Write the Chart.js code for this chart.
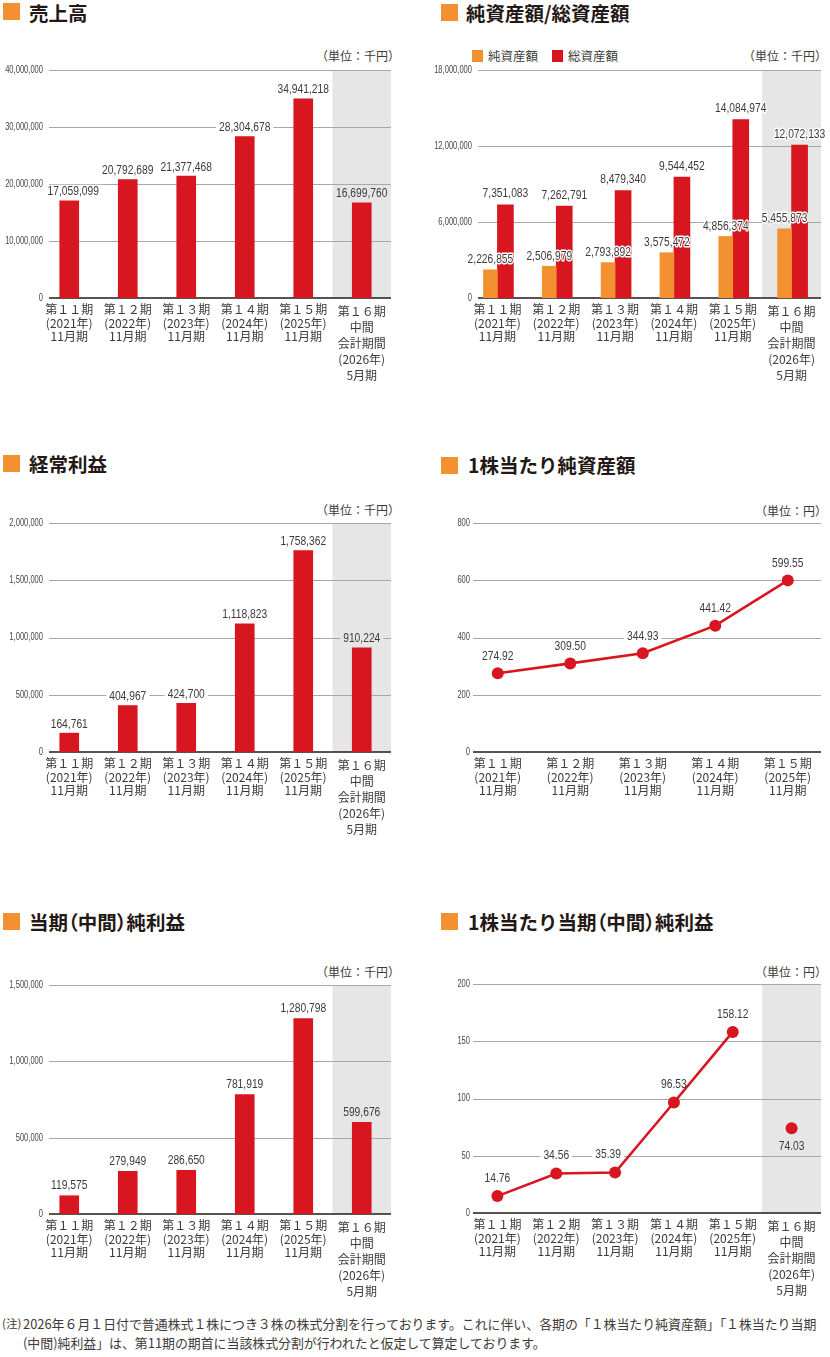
<!DOCTYPE html>
<html>
<head>
<meta charset="utf-8">
<script src="https://cdn.jsdelivr.net/npm/chart.js@4.4.1/dist/chart.umd.min.js"></script>
<style>
  body { margin: 0; width: 830px; height: 1357px; position: relative; overflow: hidden; background: #fff;
         font-family: "Noto Sans CJK JP", sans-serif; color: #3e3a39; }
  canvas { position: absolute; }
  .sq { position: absolute; width: 17px; height: 17px; background: #f39130; }
  .t { position: absolute; font-size: 19.5px; line-height: 20px; font-weight: 700; color: #231815; white-space: nowrap; }
  .t .p { font-feature-settings: "palt"; }
  .u { position: absolute; font-size: 12px; line-height: 14px; white-space: nowrap; }
  .lg { position: absolute; width: 11px; height: 12px; }
  .lt { position: absolute; font-size: 12.5px; line-height: 14px; white-space: nowrap; }
  .note { position: absolute; font-size: 12.9px; line-height: 19px; white-space: nowrap; }
</style>
</head>
<body>

<div class="sq" style="left:3px;top:3px"></div>
<div class="t" style="left:29px;top:3px">売上高</div>
<div class="u" style="right:430px;top:49px">（単位：千円）</div>

<div class="sq" style="left:441px;top:4px"></div>
<div class="t" style="left:466px;top:3px">純資産額/総資産額</div>
<div class="lg" style="left:472px;top:50px;background:#f39130"></div>
<div class="lt" style="left:488px;top:49px">純資産額</div>
<div class="lg" style="left:552px;top:50px;background:#d7161f"></div>
<div class="lt" style="left:568px;top:49px">総資産額</div>
<div class="u" style="right:3px;top:49px">（単位：千円）</div>

<div class="sq" style="left:3px;top:455px"></div>
<div class="t" style="left:29px;top:454px">経常利益</div>
<div class="u" style="right:430px;top:503px">（単位：千円）</div>

<div class="sq" style="left:441px;top:457px"></div>
<div class="t" style="left:468px;top:455px">1株当たり純資産額</div>
<div class="u" style="right:3px;top:504px">（単位：円）</div>

<div class="sq" style="left:3px;top:913px"></div>
<div class="t" style="left:29px;top:912px">当期<span class="p">（</span>中間<span class="p">）</span>純利益</div>
<div class="u" style="right:430px;top:965px">（単位：千円）</div>

<div class="sq" style="left:441px;top:913px"></div>
<div class="t" style="left:468px;top:912px">1株当たり当期<span class="p">（</span>中間<span class="p">）</span>純利益</div>
<div class="u" style="right:3px;top:965px">（単位：円）</div>

<div class="note" style="left:2px;top:1314px;font-size:11.5px">(注)</div>
<div class="note" style="left:23px;top:1314px">2026年６月１日付で普通株式１株につき３株の株式分割を行っております。これに伴い、各期の「１株当たり純資産額」「１株当たり当期<br>(中間)純利益」は、第11期の期首に当該株式分割が行われたと仮定して算定しております。</div>

<script>
// 期のラベル
const periods = [
  ['第１１期', '(2021年)', '11月期'],
  ['第１２期', '(2022年)', '11月期'],
  ['第１３期', '(2023年)', '11月期'],
  ['第１４期', '(2024年)', '11月期'],
  ['第１５期', '(2025年)', '11月期'],
  ['第１６期', '中間', '会計期間', '(2026年)', '5月期']
];

// 単位：千円
const sales = [17059099, 20792689, 21377468, 28304678, 34941218, 16699760];
const netAssets = [2226855, 2506979, 2793892, 3575472, 4856374, 5455873];
const totalAssets = [7351083, 7262791, 8479340, 9544452, 14084974, 12072133];
const ordinaryProfit = [164761, 404967, 424700, 1118823, 1758362, 910224];
const netIncome = [119575, 279949, 286650, 781919, 1280798, 599676];

// 単位：円
const bps = [274.92, 309.50, 344.93, 441.42, 599.55];
const eps = [14.76, 34.56, 35.39, 96.53, 158.12];
const epsInterim = 74.03;

// y軸の上限と目盛り間隔
const salesAxis = [40000000, 10000000];
const assetsAxis = [18000000, 6000000];
const ordinaryAxis = [2000000, 500000];
const bpsAxis = [800, 200];
const netIncomeAxis = [1500000, 500000];
const epsAxis = [200, 50];

const RED = '#d7161f', ORANGE = '#f39130', BAND = '#e6e6e7';
const GRID = '#a8a8a8', AXIS = '#231815', TEXT = '#3e3a39';
const SANS = '"Liberation Sans", Arial, sans-serif';
const JP = '"Noto Sans CJK JP", sans-serif';

const fmt = v => v.toLocaleString('en-US');
const fix2 = v => v.toFixed(2);

// 横に詰めた文字（細い数字フォントの代わり）
function narrowText(ctx, txt, x, y, align, sx, halo) {
  ctx.save();
  ctx.translate(x, y);
  ctx.scale(sx, 1);
  ctx.textAlign = align;
  ctx.textBaseline = 'middle';
  if (halo) {
    ctx.strokeStyle = '#fff';
    ctx.lineWidth = 3;
    ctx.lineJoin = 'round';
    ctx.strokeText(txt, 0, 0);
  }
  ctx.fillText(txt, 0, 0);
  ctx.restore();
}

const VAL_FONT = '13px ' + SANS, VAL_SX = 0.79;
const TICK_FONT = '10.5px ' + SANS, TICK_SX = 0.72;

function makeChart(cfg) {
  const W = 415, H = 340, PAD_TOP = 20;
  const canvas = document.createElement('canvas');
  canvas.width = W;
  canvas.height = H;
  canvas.style.left = cfg.colX + 'px';
  canvas.style.top = (cfg.plotTop - PAD_TOP) + 'px';
  document.body.appendChild(canvas);

  const gl = cfg.gridLeft - cfg.colX;
  const gr = cfg.gridRight - cfg.colX;
  const lr = cfg.labelRight - cfg.colX;
  const [yMax, yStep] = cfg.axis;

  const labelItems = chart => {
    const items = [];
    cfg.valueLabels.forEach(vl => {
      chart.getDatasetMeta(vl.ds).data.forEach((el, i) => {
        const txt = vl.texts[i];
        if (txt == null) return;
        const nudge = (vl.nudge && vl.nudge[i]) || 0;
        items.push({ txt, i, x: el.x + nudge, y: el.y + vl.dy, box: vl.box, halo: vl.halo });
      });
    });
    return items;
  };

  const frame = {
    id: 'frame',
    beforeDatasetsDraw(chart) {
      const { ctx, scales: { x, y } } = chart;
      const top = y.getPixelForValue(yMax), bottom = y.getPixelForValue(0);
      ctx.save();
      if (cfg.band) {
        const w = x.getPixelForValue(1) - x.getPixelForValue(0);
        const bx = x.getPixelForValue(5) - w / 2;
        ctx.fillStyle = BAND;
        ctx.fillRect(bx, top, gr - bx, bottom - top);
      }
      ctx.strokeStyle = GRID;
      ctx.lineWidth = 1;
      y.ticks.forEach(t => {
        if (t.value === 0) return;
        const py = Math.round(y.getPixelForValue(t.value)) + 0.5;
        ctx.beginPath();
        ctx.moveTo(gl, py);
        ctx.lineTo(gr, py);
        ctx.stroke();
      });
      ctx.strokeStyle = AXIS;
      ctx.lineWidth = 1.6;
      ctx.beginPath();
      ctx.moveTo(gl, bottom);
      ctx.lineTo(gr, bottom);
      ctx.stroke();

      // y軸の目盛りラベル
      ctx.font = TICK_FONT;
      ctx.fillStyle = '#4a4647';
      y.ticks.forEach(t => narrowText(ctx, fmt(t.value), lr, y.getPixelForValue(t.value), 'right', TICK_SX));

      // 数値ラベルの背景
      ctx.font = VAL_FONT;
      labelItems(chart).forEach(it => {
        if (!it.box) return;
        const w = ctx.measureText(it.txt).width * VAL_SX;
        ctx.fillStyle = (cfg.band && it.i === 5) ? BAND : '#fff';
        ctx.fillRect(it.x - w / 2 - 3, it.y - 7, w + 6, 14);
      });
      ctx.restore();
    },
    afterDatasetsDraw(chart) {
      const ctx = chart.ctx;
      ctx.save();
      ctx.font = VAL_FONT;
      ctx.fillStyle = TEXT;
      labelItems(chart).forEach(it => narrowText(ctx, it.txt, it.x, it.y, 'center', VAL_SX, it.halo));
      ctx.restore();
    }
  };

  return new Chart(canvas, {
    type: cfg.type,
    data: { labels: cfg.labels, datasets: cfg.datasets },
    options: {
      responsive: false,
      animation: false,
      layout: { padding: { top: PAD_TOP, left: 0, bottom: 0, right: cfg.colX + W - cfg.catRight } },
      plugins: { legend: { display: false }, tooltip: { enabled: false } },
      scales: {
        x: {
          type: 'category',
          offset: true,
          grid: { display: false, drawTicks: false },
          border: { display: false },
          ticks: {
            autoSkip: false,
            maxRotation: 0,
            padding: 5,
            color: TEXT,
            font: c => ({ family: JP, size: 12, lineHeight: c.index === 5 ? 16 / 12 : 13.5 / 12 })
          },
          afterFit: s => { s.height = H - PAD_TOP - (cfg.plotBottom - cfg.plotTop); }
        },
        y: {
          min: 0,
          max: yMax,
          grid: { display: false, drawTicks: false },
          border: { display: false },
          ticks: { stepSize: yStep, display: false },
          afterFit: s => { s.width = cfg.catLeft - cfg.colX; }
        }
      }
    },
    plugins: [frame]
  });
}

const lineStyle = {
  borderColor: RED, borderWidth: 2.6, tension: 0,
  pointRadius: 6, pointHoverRadius: 6, pointBackgroundColor: RED, pointBorderWidth: 0
};

// 売上高
makeChart({
  type: 'bar', colX: 0, plotTop: 70, plotBottom: 298,
  catLeft: 40, catRight: 391, gridLeft: 49, gridRight: 391, labelRight: 43,
  axis: salesAxis, band: true, labels: periods,
  datasets: [{ data: sales, backgroundColor: RED, barThickness: 19 }],
  valueLabels: [{ ds: 0, texts: sales.map(fmt), dy: -9, box: true, nudge: { 0: 4 } }]
});

// 純資産額/総資産額
makeChart({
  type: 'bar', colX: 415, plotTop: 70, plotBottom: 298,
  catLeft: 468, catRight: 821, gridLeft: 478, gridRight: 821, labelRight: 472,
  axis: assetsAxis, band: true, labels: periods,
  datasets: [
    { label: '純資産額', data: netAssets, backgroundColor: ORANGE, barThickness: 14 },
    { label: '総資産額', data: totalAssets, backgroundColor: RED, barThickness: 16 }
  ],
  valueLabels: [
    { ds: 1, texts: totalAssets.map(fmt), dy: -11, halo: true },
    { ds: 0, texts: netAssets.map(fmt), dy: -10, halo: true }
  ]
});

// 経常利益
makeChart({
  type: 'bar', colX: 0, plotTop: 523, plotBottom: 752,
  catLeft: 40, catRight: 391, gridLeft: 49, gridRight: 391, labelRight: 43,
  axis: ordinaryAxis, band: true, labels: periods,
  datasets: [{ data: ordinaryProfit, backgroundColor: RED, barThickness: 19 }],
  valueLabels: [{ ds: 0, texts: ordinaryProfit.map(fmt), dy: -9, box: true }]
});

// 1株当たり純資産額
makeChart({
  type: 'line', colX: 415, plotTop: 523, plotBottom: 752,
  catLeft: 461.5, catRight: 826.5, gridLeft: 473, gridRight: 821, labelRight: 470,
  axis: bpsAxis, band: false, labels: periods.slice(0, 5),
  datasets: [Object.assign({ data: bps }, lineStyle)],
  valueLabels: [{ ds: 0, texts: bps.map(fix2), dy: -17, box: true }]
});

// 当期(中間)純利益
makeChart({
  type: 'bar', colX: 0, plotTop: 985, plotBottom: 1214,
  catLeft: 40, catRight: 391, gridLeft: 49, gridRight: 391, labelRight: 43,
  axis: netIncomeAxis, band: true, labels: periods,
  datasets: [{ data: netIncome, backgroundColor: RED, barThickness: 19 }],
  valueLabels: [{ ds: 0, texts: netIncome.map(fmt), dy: -10, box: true }]
});

// 1株当たり当期(中間)純利益
makeChart({
  type: 'line', colX: 415, plotTop: 984, plotBottom: 1213,
  catLeft: 468, catRight: 821, gridLeft: 473, gridRight: 821, labelRight: 470,
  axis: epsAxis, band: true, labels: periods,
  datasets: [
    Object.assign({ data: [...eps, null] }, lineStyle),
    Object.assign({ data: [null, null, null, null, null, epsInterim], showLine: false }, lineStyle)
  ],
  valueLabels: [
    { ds: 0, texts: eps.map(fix2), dy: -18, box: true, nudge: { 2: -7 } },
    { ds: 1, texts: [null, null, null, null, null, fix2(epsInterim)], dy: 18, box: true }
  ]
});
</script>
</body>
</html>
